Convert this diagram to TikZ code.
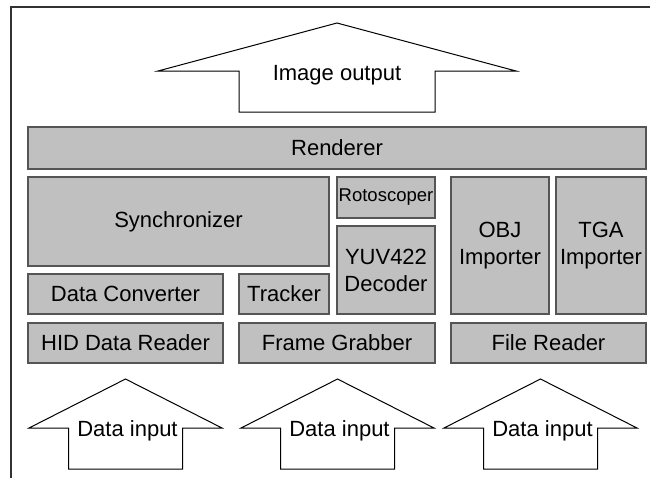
\documentclass[tikz,border=0pt]{standalone}
\usepackage{fontspec}
\setmainfont{Liberation Sans}
\usepackage{tikz}

\definecolor{boxfill}{RGB}{192,192,192}
\definecolor{boxline}{RGB}{85,85,85}
\definecolor{frameline}{RGB}{50,50,50}

\begin{document}
\begin{tikzpicture}[x=1pt,y=-1pt,
  box/.style={draw=boxline,fill=boxfill,line width=1.2pt,inner sep=0pt,
    align=center,font=\fontsize{22}{27}\selectfont},
  bigarrow/.style={draw=black,fill=white,line width=1pt,line join=miter},
  label/.style={font=\fontsize{22}{27}\selectfont,inner sep=0pt}]
  \useasboundingbox (0,0) rectangle (650,479);
  % frame
  \draw[frameline,line width=2pt] (650,7) -- (11,7) -- (11,478);

  % output arrow
  \draw[bigarrow] (337,23) -- (516,71) -- (435,71) -- (435,112)
    -- (239,112) -- (239,71) -- (158,71) -- cycle;
  \node[label] (output) at (337,75) {Image output};

  % layers
  \node[box,minimum width=618pt,minimum height=42pt] (renderer) at (337,148) {Renderer};
  \node[box,minimum width=301pt,minimum height=89pt] (sync) at (178.5,221.5) {Synchronizer};
  \node[box,minimum width=98pt,minimum height=41pt,font=\fontsize{18.5}{22}\selectfont]
    (roto) at (386,197.5) {Rotoscoper};
  \node[box,minimum width=98pt,minimum height=88pt] (yuv) at (386,270) {YUV422\\Decoder};
  \node[box,minimum width=98pt,minimum height=137pt] (obj) at (500,245.5) {OBJ\\Importer};
  \node[box,minimum width=90pt,minimum height=137pt] (tga) at (601,245.5) {TGA\\Importer};
  \node[box,minimum width=195pt,minimum height=40pt] (conv) at (125.5,294) {Data Converter};
  \node[box,minimum width=90pt,minimum height=40pt] (tracker) at (284,294) {Tracker};
  \node[box,minimum width=195pt,minimum height=40pt] (hid) at (125.5,343) {HID Data Reader};
  \node[box,minimum width=196pt,minimum height=40pt] (grabber) at (337,343) {Frame Grabber};
  \node[box,minimum width=195pt,minimum height=40pt] (filereader) at (548.5,343) {File Reader};

  % input arrows
  \foreach \cx/\name in {125.5/inhid,337.5/ingrab,540.5/infile} {
    \draw[bigarrow] (\cx,379) -- ++(96.5,49) -- ++(-39.5,0) -- ++(0,41)
      -- ++(-114,0) -- ++(0,-41) -- ++(-39.5,0) -- cycle;
    \node[label] (\name) at (\cx+2,431) {Data input};
  }
\end{tikzpicture}
\end{document}
